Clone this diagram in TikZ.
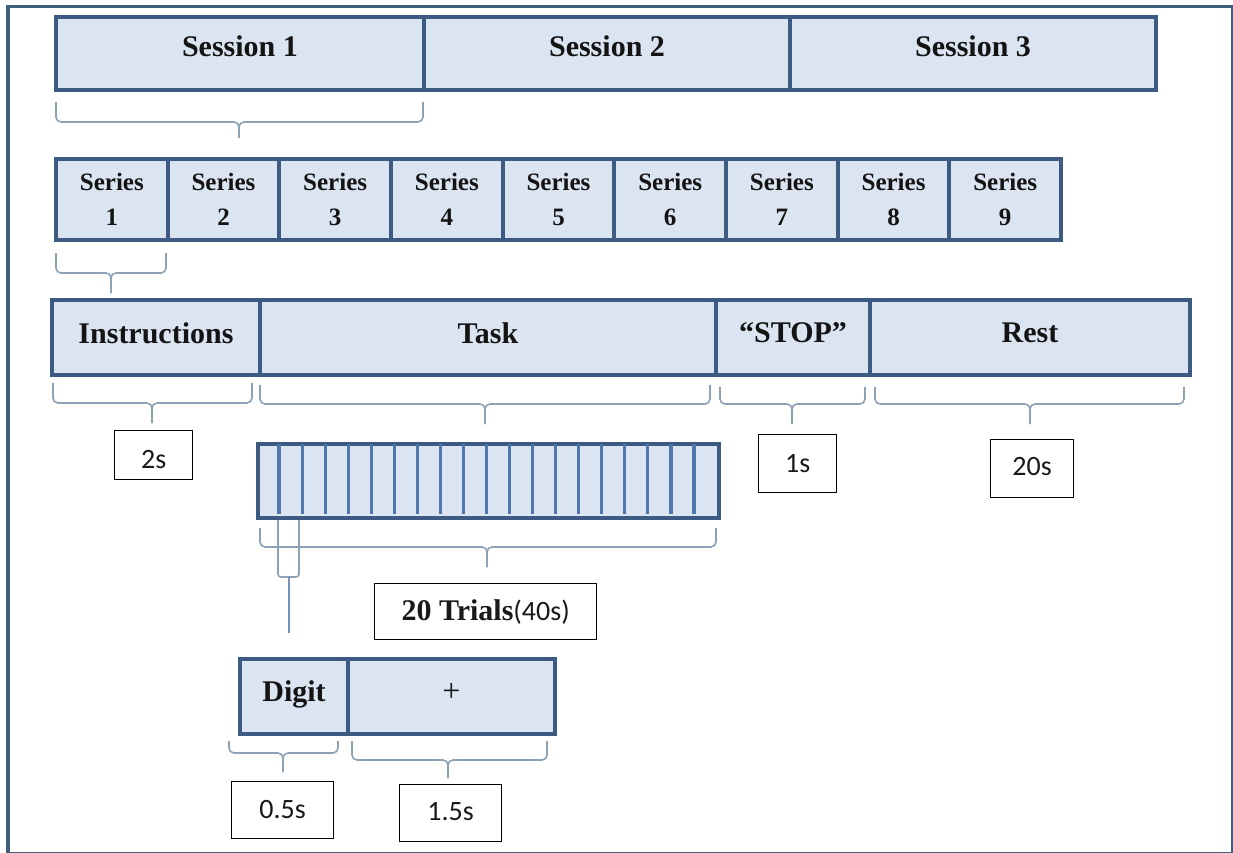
\documentclass[tikz,border=0pt]{standalone}
\usepackage{fontspec}
\setmainfont{Liberation Serif}
\newfontfamily\calibrifont{Carlito}
\definecolor{fillc}{HTML}{DBE5F1}
\definecolor{bord}{HTML}{3D5B82}
\definecolor{framec}{HTML}{435F80}
\definecolor{bracec}{HTML}{8EA2B6}
\definecolor{cellc}{HTML}{4F77AC}
\tikzset{
  blk/.style={draw=bord, fill=fillc, line width=4pt, inner sep=0pt, anchor=north west,
    text=black!92, font=\bfseries\fontsize{30}{36}\selectfont},
  serblk/.style={blk, align=center, font=\bfseries\fontsize{25}{35}\selectfont},
  lbl/.style={draw=black, fill=white, line width=1.3pt, inner sep=0pt, anchor=north west,
    text=black!90, font=\calibrifont\fontsize{28}{34}\selectfont},
  brc/.style={draw=bracec, line width=1.6pt, rounded corners=5pt},
}
% under-brace: x1, x2, top of ends, bar level, tip x, stem end
\newcommand\ubrace[6]{%
  \draw[brc] (#1,#3) -- (#1,#4) -- (#5,#4) -- (#5,#6);
  \draw[brc] (#2,#3) -- (#2,#4) -- (#5,#4) -- (#5,#6);
}
\begin{document}
\begin{tikzpicture}[x=1pt, y=-1pt]
\useasboundingbox (0,0) rectangle (1233,853);
\node[draw=framec, line width=3.5pt, inner sep=0pt, anchor=north west,
      minimum width=1225pt, minimum height=847pt] (frame) at (6,5) {};

% sessions
\node[blk, minimum width=368pt, minimum height=73pt, text height=40pt, text depth=33pt] (s1) at (54,15) {Session 1};
\node[blk, minimum width=366pt, minimum height=73pt, text height=40pt, text depth=33pt] (s2) at (422,15) {Session 2};
\node[blk, minimum width=366pt, minimum height=73pt, text height=40pt, text depth=33pt] (s3) at (788,15) {Session 3};

% series
\foreach \i in {1,...,9}
  \node[serblk, minimum width=111.67pt, minimum height=81pt] (r\i) at ({54+111.67*(\i-1)},157) {Series\\\i};

% phases of one series
\node[blk, minimum width=208pt, minimum height=75pt, text height=43pt, text depth=32pt] (instr) at (50,298) {Instructions};
\node[blk, minimum width=456pt, minimum height=75pt, text height=43pt, text depth=32pt] (task) at (258,298) {Task};
\node[blk, minimum width=154pt, minimum height=75pt, text height=42pt, text depth=33pt] (stop) at (714,298) {“STOP”};
\node[blk, minimum width=320pt, minimum height=75pt, text height=42pt, text depth=33pt] (rest) at (868,298) {Rest};

% durations
\node[lbl, minimum width=78pt, minimum height=49pt, text height=38pt, text depth=11pt] (d2) at (114,430) {2s};
\node[lbl, minimum width=78pt, minimum height=58pt, text height=38pt, text depth=20pt] (d1) at (758,434) {1s};
\node[lbl, minimum width=83pt, minimum height=58pt, text height=36pt, text depth=22pt] (d20) at (990,439) {20s};

% trial strip
\node[blk, minimum width=461pt, minimum height=74pt] (strip) at (256,442) {};
\foreach \k in {1,...,19}
  \draw[cellc, line width=3.2pt] ({256+23.05*\k},444) -- ({256+23.05*\k},514);

\node[lbl, minimum width=222pt, minimum height=56pt, text height=37pt, text depth=19pt] (trials) at (374,583)
  {{\rmfamily\bfseries\fontsize{30}{36}\selectfont 20 Trials}(40s)};

% one trial
\node[blk, minimum width=108pt, minimum height=75pt, text height=42pt, text depth=33pt] (digit) at (238,657) {Digit};
\node[blk, minimum width=207pt, minimum height=75pt, text height=42pt, text depth=33pt,
      font=\fontsize{32}{36}\selectfont] (plus) at (346,657) {+};

\node[lbl, minimum width=102pt, minimum height=57pt, text height=37pt, text depth=20pt] (d05) at (231,781) {0.5s};
\node[lbl, minimum width=102pt, minimum height=57pt, text height=36pt, text depth=21pt] (d15) at (399,784) {1.5s};

% braces
\ubrace{56}{423}{102}{122}{239}{138}
\ubrace{56}{166}{253}{273}{111}{293}
\ubrace{53}{252}{383}{403}{152}{423}
\ubrace{260}{710}{385}{404}{485}{424}
\ubrace{720}{865}{387}{404}{792}{424}
\ubrace{875}{1184}{387}{404}{1030}{424}
\ubrace{260}{716}{528}{547}{487}{567}
\ubrace{229}{338}{741}{753}{283}{772}
\ubrace{352}{547}{741}{760}{448}{778}
% bracket around the first trial
\draw[brc, rounded corners=3pt] (278,520) -- (278,577) -- (299,577) -- (299,520);
\draw[cellc!80, line width=2pt] (288.5,577) -- (288.5,633);
\end{tikzpicture}
\end{document}
